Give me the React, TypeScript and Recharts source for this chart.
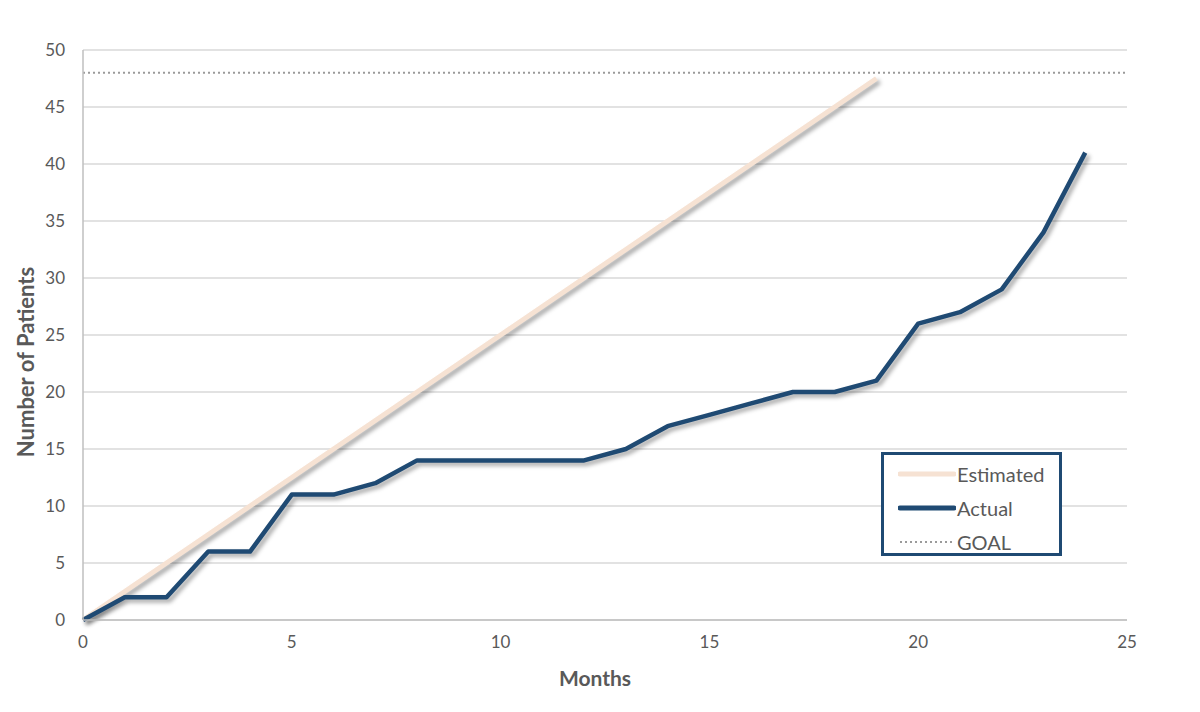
import { LineChart, Line, XAxis, YAxis, CartesianGrid, ReferenceLine } from "recharts";

const MONTHS = [0, 1, 2, 3, 4, 5, 6, 7, 8, 9, 10, 11, 12, 13, 14, 15, 16, 17, 18, 19, 20, 21, 22, 23, 24];
const ESTIMATED = [0, 2.5, 5, 7.5, 10, 12.5, 15, 17.5, 20, 22.5, 25, 27.5, 30, 32.5, 35, 37.5, 40, 42.5, 45, 47.5];
const ACTUAL = [0, 2, 2, 6, 6, 11, 11, 12, 14, 14, 14, 14, 14, 15, 17, 18, 19, 20, 20, 21, 26, 27, 29, 34, 41];
const GOAL = 48;
const X_TICKS = [0, 5, 10, 15, 20, 25];
const Y_TICKS = [0, 5, 10, 15, 20, 25, 30, 35, 40, 45, 50];

const NAVY = "#1f4a73";
const PEACH = "#f6e2d3";
const TEXT = "#595959";
const FONT = "Lato, 'Open Sans', sans-serif";

const rows = MONTHS.map((m, i) => ({ month: m, estimated: ESTIMATED[i], actual: ACTUAL[i] }));

// legend drawn as an overlay so it doesn't eat into the plot area
function ChartLegend() {
  const items = [
    { label: "Estimated", color: PEACH, width: 5, dash: undefined },
    { label: "Actual", color: NAVY, width: 5, dash: undefined },
    { label: "GOAL", color: "#9a9a9a", width: 2, dash: "2 3" },
  ];
  return (
    <div style={{ position: "absolute", left: 881, top: 452, border: `3px solid ${NAVY}`, width: 175, height: 96, background: "#fff", paddingTop: 2 }}>
      {items.map((it) => (
        <div key={it.label} style={{ display: "flex", alignItems: "center", height: 34, paddingLeft: 14 }}>
          <svg width={58} height={10}>
            <line x1={2} x2={56} y1={5} y2={5} stroke={it.color} strokeWidth={it.width} strokeDasharray={it.dash} strokeLinecap={it.dash ? "butt" : "round"} />
          </svg>
          <span style={{ fontFamily: FONT, fontSize: 20, color: TEXT, marginLeft: 1 }}>{it.label}</span>
        </div>
      ))}
    </div>
  );
}

export default function App() {
  return (
    <div style={{ position: "absolute", left: 0, top: 0, width: 1200, height: 712, background: "#fff" }}>
      <style>{`.shadowed { filter: drop-shadow(3px 3px 2px rgba(0,0,0,0.35)); }`}</style>
      <LineChart width={1200} height={712} data={rows} margin={{ top: 50, right: 73, bottom: 22, left: 20 }}>
        <CartesianGrid horizontal vertical={false} stroke="#d9d9d9" strokeWidth={1.5} />
        <XAxis
          dataKey="month" type="number" domain={[0, 25]} ticks={X_TICKS} height={70}
          stroke="#bfbfbf" strokeWidth={1.5} tickLine={false}
          tick={{ fill: TEXT, fontSize: 17, fontFamily: FONT }} tickMargin={10}
          label={{ content: () => (
            <text x={595} y={686} textAnchor="middle" fill={TEXT} fontFamily={FONT} fontSize={21} fontWeight="bold">Months</text>
          ) }}
        />
        <YAxis
          type="number" domain={[0, 50]} ticks={Y_TICKS} width={63}
          stroke="#bfbfbf" strokeWidth={1.5} tickLine={false}
          tick={{ fill: TEXT, fontSize: 17, fontFamily: FONT }} tickMargin={12}
          label={{ content: () => (
            <text x={34} y={362} transform="rotate(-90 34 362)" textAnchor="middle" fill={TEXT} fontFamily={FONT} fontSize={22} fontWeight="bold">Number of Patients</text>
          ) }}
        />
        <ReferenceLine y={GOAL} stroke="#9a9a9a" strokeWidth={2} strokeDasharray="2 3" />
        <Line className="shadowed" dataKey="estimated" stroke={PEACH} strokeWidth={5} dot={false} isAnimationActive={false} type="linear" />
        <Line className="shadowed" dataKey="actual" stroke={NAVY} strokeWidth={4.5} dot={false} isAnimationActive={false} type="linear" strokeLinejoin="round" />
      </LineChart>
      <ChartLegend />
    </div>
  );
}
